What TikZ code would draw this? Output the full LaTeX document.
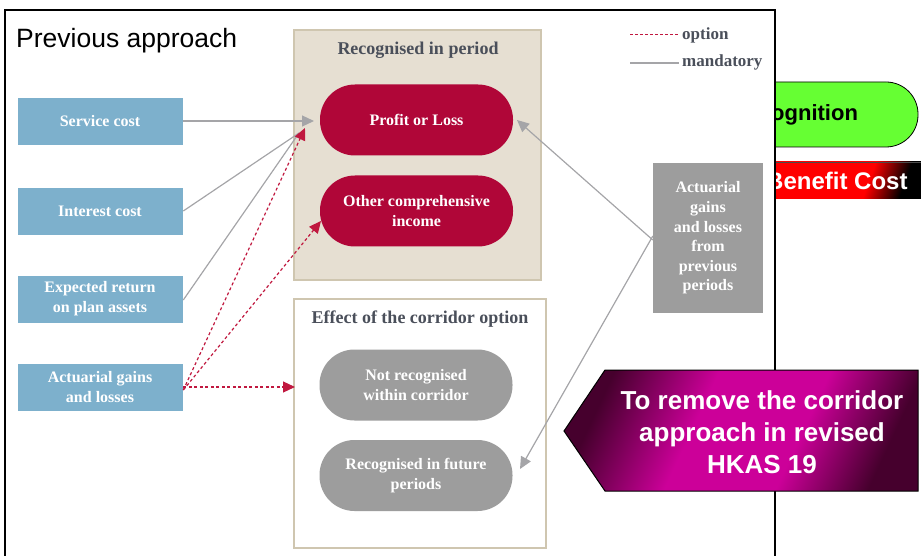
\documentclass[tikz,border=0pt]{standalone}
\usepackage{fontspec}
\setmainfont{Liberation Serif}
\newfontfamily\arialf{Liberation Sans}
\usetikzlibrary{arrows.meta,shapes.geometric}
\definecolor{boxblue}{RGB}{125,176,204}
\definecolor{crimson}{RGB}{176,6,56}
\definecolor{pillgray}{RGB}{157,157,157}
\definecolor{beigefill}{RGB}{230,223,210}
\definecolor{beigeline}{RGB}{207,198,176}
\definecolor{arrgray}{RGB}{165,165,168}
\definecolor{optred}{RGB}{192,24,63}
\definecolor{titlecol}{RGB}{74,79,90}
\definecolor{mag}{RGB}{204,0,153}
\definecolor{magdark}{RGB}{70,0,45}
\definecolor{greenfill}{RGB}{102,255,51}
\pgfdeclarehorizontalshading{magsh}{100bp}{color(0bp)=(magdark); color(25bp)=(magdark); color(42bp)=(mag); color(60bp)=(mag); color(75bp)=(magdark); color(100bp)=(magdark)}
\pgfdeclarehorizontalshading{redsh}{100bp}{color(0bp)=(red); color(25bp)=(red); color(66bp)=(red); color(76bp)=(black); color(100bp)=(black)}
\tikzset{
  srcbox/.style={fill=boxblue, draw=white, line width=0.6pt, minimum width=166, minimum height=48, inner sep=0pt, text=white, align=center, font=\fontsize{16}{20}\selectfont\bfseries},
  pillbox/.style={rounded corners=35pt, minimum width=193, minimum height=71, inner sep=0pt, text=white, align=center, font=\fontsize{16}{20}\selectfont\bfseries},
  redpill/.style={pillbox, fill=crimson},
  graypill/.style={pillbox, fill=pillgray},
  grouptitle/.style={text=titlecol, inner sep=0pt, font=\fontsize{18}{20}\selectfont},
  mand/.style={draw=arrgray, line width=1.2pt, -{Triangle[length=12pt,width=11pt]}},
  mandline/.style={draw=arrgray, line width=1.2pt},
  opt/.style={draw=optred, line width=1.2pt, dash pattern=on 3pt off 2.5pt, -{Triangle[length=12pt,width=11pt]}},
}
\begin{document}
\begin{tikzpicture}[x=1pt,y=-1pt]
\useasboundingbox (0,0) rectangle (921,556);
\clip (0,0) rectangle (921,556);
% right-hand slide elements, partly hidden by frame
\begin{scope}
\clip (776,0) rectangle (921,556);
\draw[fill=greenfill, draw=black, line width=0.8pt, rounded corners=32pt] (650,82) rectangle (918,147);
\node[anchor=west, inner sep=0pt, font=\arialf\bfseries\fontsize{22}{24}\selectfont] (recog) at (771,115) {ognition};
\shade[shading=redsh, shading angle=-20] (700,162) rectangle (921,199);
\draw[black!70, line width=0.8pt] (700,162) -- (921,162);
\node[anchor=west, inner sep=0pt, text=white, font=\arialf\bfseries\fontsize{24}{26}\selectfont] (bcost) at (766,181) {Benefit Cost};
\end{scope}
% frame
\draw[black, line width=1.3pt] (5,10) rectangle (775,600);
\node[anchor=west, inner sep=0pt, font=\arialf\fontsize{26.5}{28}\selectfont] (ttl) at (16,41) {Previous approach};
% legend
\coordinate (lo1) at (630,35); \coordinate (lo2) at (679,35);
\coordinate (lm1) at (630,63); \coordinate (lm2) at (679,63);
\draw[optred, line width=1pt, dash pattern=on 3pt off 2pt] (lo1) -- (lo2);
\draw[arrgray, line width=1.2pt] (lm1) -- (lm2);
\node[anchor=west, grouptitle, font=\fontsize{17}{20}\selectfont\bfseries] (lgo) at (682,35) {option};
\node[anchor=west, grouptitle, font=\fontsize{17}{20}\selectfont\bfseries] (lgm) at (682,62) {mandatory};
% group boxes
\draw[fill=beigefill, draw=beigeline, line width=1.2pt] (294,30) rectangle (541,280);
\node[grouptitle] (t1) at (418,50) {\bfseries Recognised in period};
\draw[fill=white, draw=beigeline, line width=1.2pt] (294,299) rectangle (546,548);
\node[grouptitle] (t2) at (420,319) {\bfseries Effect of the corridor option};
% pills
\node[redpill] (pl) at (416.5,120) {Profit or Loss};
\node[redpill] (oci) at (416.5,211) {Other comprehensive\\income};
\node[graypill] (nr) at (416,385) {Not recognised\\within corridor};
\node[graypill] (rf) at (416,475.5) {Recognised in future\\periods};
% source boxes
\node[srcbox] (sc) at (100,121) {Service cost};
\node[srcbox] (ic) at (100,211) {Interest cost};
\node[srcbox] (er) at (100,299) {Expected return\\on plan assets};
\node[srcbox] (ag) at (100,387) {Actuarial gains\\and losses};
\node[fill=pillgray, minimum width=110, minimum height=150, inner sep=0pt, text=white, align=center, font=\fontsize{16}{19.6}\selectfont\bfseries] (ap) at (708,238) {Actuarial\\gains\\and losses\\from\\previous\\periods};
% connectors
\coordinate (plin) at (314,121);
\coordinate (conv) at (299,133);
\coordinate (redin) at (305,128);
\coordinate (ociin) at (321,221);
\coordinate (effin) at (295,387);
\coordinate (plout) at (517,120);
\coordinate (rfout) at (520,469);
\draw[mand] (sc.east) -- (plin);
\draw[mandline] (ic.east) -- (conv);
\draw[mandline] ([yshift=-1pt]er.east) -- (conv);
\draw[opt] ([yshift=-3pt]ag.east) -- (redin);
\draw[opt] ([yshift=-3pt]ag.east) -- (ociin);
\draw[opt] (ag.east) -- (effin);
\draw[mand] ([yshift=-2pt]ap.west) -- (plout);
\draw[mand] ([yshift=2pt]ap.west) -- (rfout);
% magenta arrow
\shade[shading=magsh, shading angle=-25] (564,431) -- (605,370) -- (918,370) -- (918,491) -- (605,491) -- cycle;
\draw[black, line width=1pt] (564,431) -- (605,370) -- (918,370) -- (918,491) -- (605,491) -- cycle;
\node[text=white, align=center, inner sep=0pt, font=\arialf\bfseries\fontsize{26}{32}\selectfont] (rm) at (762,432) {To remove the corridor\\approach in revised\\HKAS 19};
\end{tikzpicture}
\end{document}
